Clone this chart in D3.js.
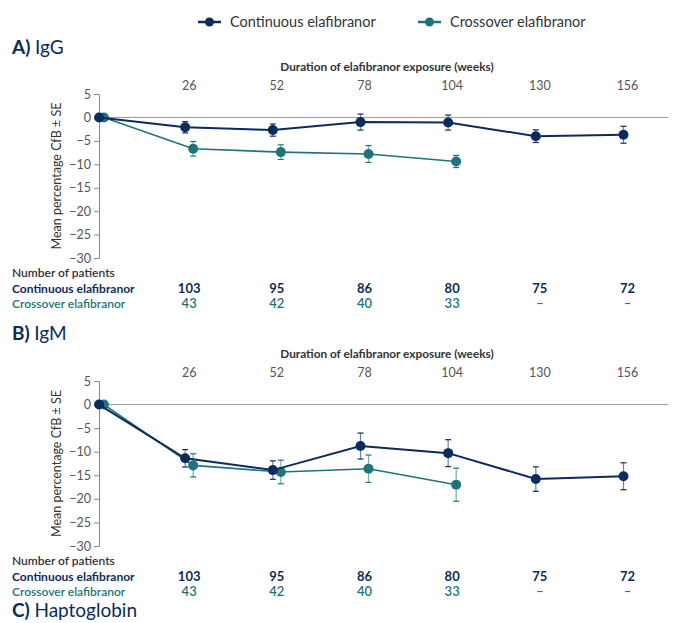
<!DOCTYPE html>
<html>
<head>
<meta charset="utf-8">
<script src="https://cdn.jsdelivr.net/npm/d3@7"></script>
<style>
  body { margin: 0; background: #fff; }
  svg { font-family: Lato, "Open Sans", sans-serif; }
</style>
</head>
<body>
<svg id="chart" width="675" height="623"></svg>
<script>
// data
var weeks = [0, 26, 52, 78, 104, 130, 156];
var tickWeeks = [26, 52, 78, 104, 130, 156];
var yTicks = [5, 0, -5, -10, -15, -20, -25, -30];

var iggContinuous = [0, -2.1, -2.7, -1.0, -1.1, -4.0, -3.7];
var iggContinuousSE = [0, 1.2, 1.3, 1.7, 1.6, 1.35, 1.8];
var iggCrossover = [0, -6.7, -7.4, -7.8, -9.4];
var iggCrossoverSE = [0, 1.55, 1.55, 1.8, 1.3];

var igmContinuous = [0, -11.4, -13.9, -8.8, -10.3, -15.8, -15.2];
var igmContinuousSE = [0, 1.85, 1.95, 2.75, 2.85, 2.6, 2.85];
var igmCrossover = [0, -12.9, -14.3, -13.6, -17.0];
var igmCrossoverSE = [0, 2.45, 2.5, 2.9, 3.5];

var nContinuous = ['103', '95', '86', '80', '75', '72'];
var nCrossover = ['43', '42', '40', '33', '\u2013', '\u2013'];

var navy = '#0b2b5c';
var teal = '#1e7479';
var grey = '#555';

var svg = d3.select('#chart');

// legend
var legend = [
  {label: 'Continuous elafibranor', color: navy, x: 198},
  {label: 'Crossover elafibranor', color: teal, x: 418}
];
legend.forEach(function(l) {
  var g = svg.append('g').attr('transform', 'translate(' + l.x + ',22)');
  g.append('line').attr('x1', 0).attr('x2', 23).attr('stroke', l.color).attr('stroke-width', 2.5);
  g.append('circle').attr('cx', 11.5).attr('r', 4.5).attr('fill', l.color);
  g.append('text').attr('x', 32).attr('y', 5).attr('font-size', 14.5).attr('fill', '#333').text(l.label);
});

var x = d3.scaleLinear().domain([0, 156]).range([101.5, 627.5]);

function panel(opts) {
  var y = d3.scaleLinear().domain([5, -30]).range([opts.top, opts.bottom]);
  var g = svg.append('g');

  var title = g.append('text').attr('x', 12).attr('y', opts.titleY).attr('font-size', 19).attr('fill', navy);
  title.append('tspan').attr('font-weight', 700).text(opts.letter + ') ');
  title.append('tspan').text(opts.name);

  g.append('text').attr('x', 387).attr('y', opts.top - 23).attr('text-anchor', 'middle')
    .attr('font-size', 11.8).attr('font-weight', 700).attr('fill', '#333')
    .text('Duration of elafibranor exposure (weeks)');

  g.selectAll('.wk').data(tickWeeks).enter().append('text')
    .attr('x', function(d) { return x(d); }).attr('y', opts.top - 4)
    .attr('text-anchor', 'middle').attr('font-size', 12.5).attr('fill', grey)
    .text(function(d) { return d; });

  var yAxis = g.append('g').attr('transform', 'translate(99,0)')
    .call(d3.axisLeft(y).tickValues(yTicks).tickSize(5).tickPadding(3)
      .tickFormat(function(d) { return String(d).replace('-', '\u2212'); }));
  yAxis.select('.domain').attr('stroke', '#888');
  yAxis.selectAll('.tick line').attr('stroke', '#888');
  yAxis.selectAll('text').attr('font-size', 12.5).attr('fill', grey).attr('font-family', 'Lato, sans-serif');

  g.append('line').attr('x1', 99).attr('x2', 668).attr('y1', y(0)).attr('y2', y(0))
    .attr('stroke', '#999').attr('stroke-width', 1);

  g.append('text')
    .attr('transform', 'translate(61,' + ((opts.top + opts.bottom) / 2) + ') rotate(-90)')
    .attr('text-anchor', 'middle').attr('font-size', 12.5).attr('fill', '#333')
    .text('Mean percentage CfB \u00b1 SE');

  var series = [
    {vals: opts.cross, se: opts.crossSE, color: teal, dx: 4, w: 1.6},
    {vals: opts.cont, se: opts.contSE, color: navy, dx: -4, w: 2}
  ];
  series.forEach(function(s) {
    var pts = s.vals.map(function(v, i) { return {wk: weeks[i], v: v, se: s.se[i]}; });
    var px = function(d) { return x(d.wk) + (d.wk === 0 ? s.dx * 0.6 : s.dx); };
    g.append('path').datum(pts)
      .attr('fill', 'none').attr('stroke', s.color).attr('stroke-width', s.w)
      .attr('d', d3.line().x(px).y(function(d) { return y(d.v); }));
    var eb = g.selectAll(null).data(pts.filter(function(d) { return d.se > 0; })).enter().append('g');
    eb.append('line').attr('x1', px).attr('x2', px)
      .attr('y1', function(d) { return y(d.v + d.se); }).attr('y2', function(d) { return y(d.v - d.se); })
      .attr('stroke', s.color).attr('stroke-width', 1.2).attr('stroke-opacity', 0.6);
    [1, -1].forEach(function(sign) {
      eb.append('line').attr('x1', function(d) { return px(d) - 3; }).attr('x2', function(d) { return px(d) + 3; })
        .attr('y1', function(d) { return y(d.v + sign * d.se); }).attr('y2', function(d) { return y(d.v + sign * d.se); })
        .attr('stroke', s.color).attr('stroke-width', 1.2);
    });
    g.selectAll(null).data(pts).enter().append('circle')
      .attr('cx', px).attr('cy', function(d) { return y(d.v); })
      .attr('r', 5).attr('fill', s.color);
  });

  var ny = opts.bottom + 19;
  g.append('text').attr('x', 12).attr('y', ny).attr('font-size', 12).attr('font-weight', 600).attr('fill', '#333').text('Number of patients');
  g.append('text').attr('x', 12).attr('y', ny + 15.5).attr('font-size', 12).attr('font-weight', 700).attr('fill', navy).text('Continuous elafibranor');
  g.append('text').attr('x', 12).attr('y', ny + 31).attr('font-size', 12).attr('font-weight', 600).attr('fill', teal).text('Crossover elafibranor');
  g.selectAll(null).data(nContinuous).enter().append('text')
    .attr('x', function(d, i) { return x(tickWeeks[i]); }).attr('y', ny + 15.5)
    .attr('text-anchor', 'middle').attr('font-size', 13).attr('font-weight', 700).attr('fill', navy)
    .text(function(d) { return d; });
  g.selectAll(null).data(nCrossover).enter().append('text')
    .attr('x', function(d, i) { return x(tickWeeks[i]); }).attr('y', ny + 31)
    .attr('text-anchor', 'middle').attr('font-size', 13).attr('font-weight', 600).attr('fill', teal)
    .text(function(d) { return d; });
}

panel({letter: 'A', name: 'IgG', titleY: 54, top: 94, bottom: 258,
  cont: iggContinuous, contSE: iggContinuousSE, cross: iggCrossover, crossSE: iggCrossoverSE});
panel({letter: 'B', name: 'IgM', titleY: 340, top: 381, bottom: 546,
  cont: igmContinuous, contSE: igmContinuousSE, cross: igmCrossover, crossSE: igmCrossoverSE});

var c = svg.append('text').attr('x', 12).attr('y', 617).attr('font-size', 19).attr('fill', navy);
c.append('tspan').attr('font-weight', 700).text('C) ');
c.append('tspan').text('Haptoglobin');
</script>
</body>
</html>
